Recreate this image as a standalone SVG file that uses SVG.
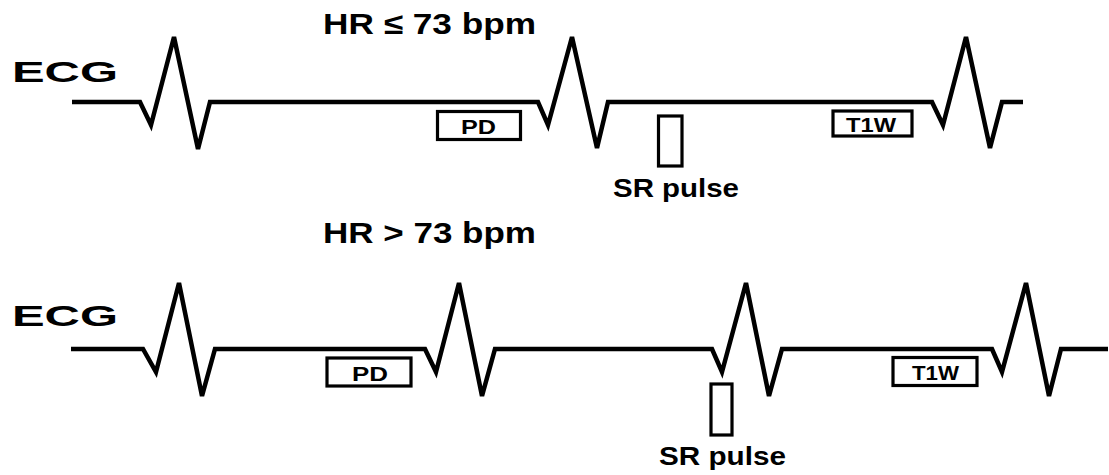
<svg xmlns="http://www.w3.org/2000/svg" width="1109" height="475" viewBox="0 0 1109 475">
<style>
.wave{fill:none;stroke:#000;stroke-width:4.5;stroke-linejoin:miter;stroke-miterlimit:4;stroke-linecap:butt}
.box{fill:#fff;stroke:#000;stroke-width:3.2}
.t{font-family:"Liberation Sans",Arial,Helvetica,sans-serif;font-weight:bold;fill:#000}
.title{font-size:29.5px}
.ecg{font-size:30px}
.sr{font-size:26.5px}
.lbl{font-size:21px}
</style>
<rect width="1109" height="475" fill="#fff"/>
<g id="connectors">
<path id="ecg-top" class="wave" d="M72,102 H140 L151,125 L174,37 L198,149 L210,102 H538 L548,125 L572,37 L597,148 L608,102 H932 L943,125 L966,37 L990,148 L1002,102 H1023"/>
<path id="ecg-bottom" class="wave" d="M71,349 H143 L156,372 L179,283 L202,396 L215,349 H425 L436,372 L459,283 L482,396 L495,349 H712 L722,372 L746,283 L769,396 L782,349 H992 L1002,372 L1026,283 L1049,396 L1061,349 H1108"/>
</g>
<g id="title-top"><text class="t title" x="323" y="33.5" textLength="213" lengthAdjust="spacingAndGlyphs">HR ≤ 73 bpm</text></g>
<g id="title-bottom"><text class="t title" x="323" y="242.5" textLength="213" lengthAdjust="spacingAndGlyphs">HR &gt; 73 bpm</text></g>
<g id="ecg-label-top"><text class="t ecg" x="12" y="82" textLength="106" lengthAdjust="spacingAndGlyphs">ECG</text></g>
<g id="ecg-label-bottom"><text class="t ecg" x="12" y="326" textLength="106" lengthAdjust="spacingAndGlyphs">ECG</text></g>
<g id="pd-top">
<rect class="box" x="437.5" y="111.5" width="83" height="28"/>
<text class="t lbl" x="461" y="134" textLength="35" lengthAdjust="spacingAndGlyphs">PD</text>
</g>
<g id="t1w-top">
<rect class="box" x="833" y="111" width="79" height="25"/>
<text class="t lbl" x="846" y="132" textLength="50" lengthAdjust="spacingAndGlyphs">T1W</text>
</g>
<g id="sr-top">
<rect class="box" x="658.5" y="116" width="23.5" height="50"/>
<text class="t sr" x="613" y="197" textLength="126" lengthAdjust="spacingAndGlyphs">SR pulse</text>
</g>
<g id="pd-bottom">
<rect class="box" x="327" y="358" width="84" height="28"/>
<text class="t lbl" x="352" y="380.5" textLength="36" lengthAdjust="spacingAndGlyphs">PD</text>
</g>
<g id="t1w-bottom">
<rect class="box" x="893" y="357.5" width="84" height="28"/>
<text class="t lbl" x="912" y="380" textLength="47" lengthAdjust="spacingAndGlyphs">T1W</text>
</g>
<g id="sr-bottom">
<rect class="box" x="711" y="384" width="21" height="51"/>
<text class="t sr" x="659" y="465" textLength="127" lengthAdjust="spacingAndGlyphs">SR pulse</text>
</g>
</svg>
